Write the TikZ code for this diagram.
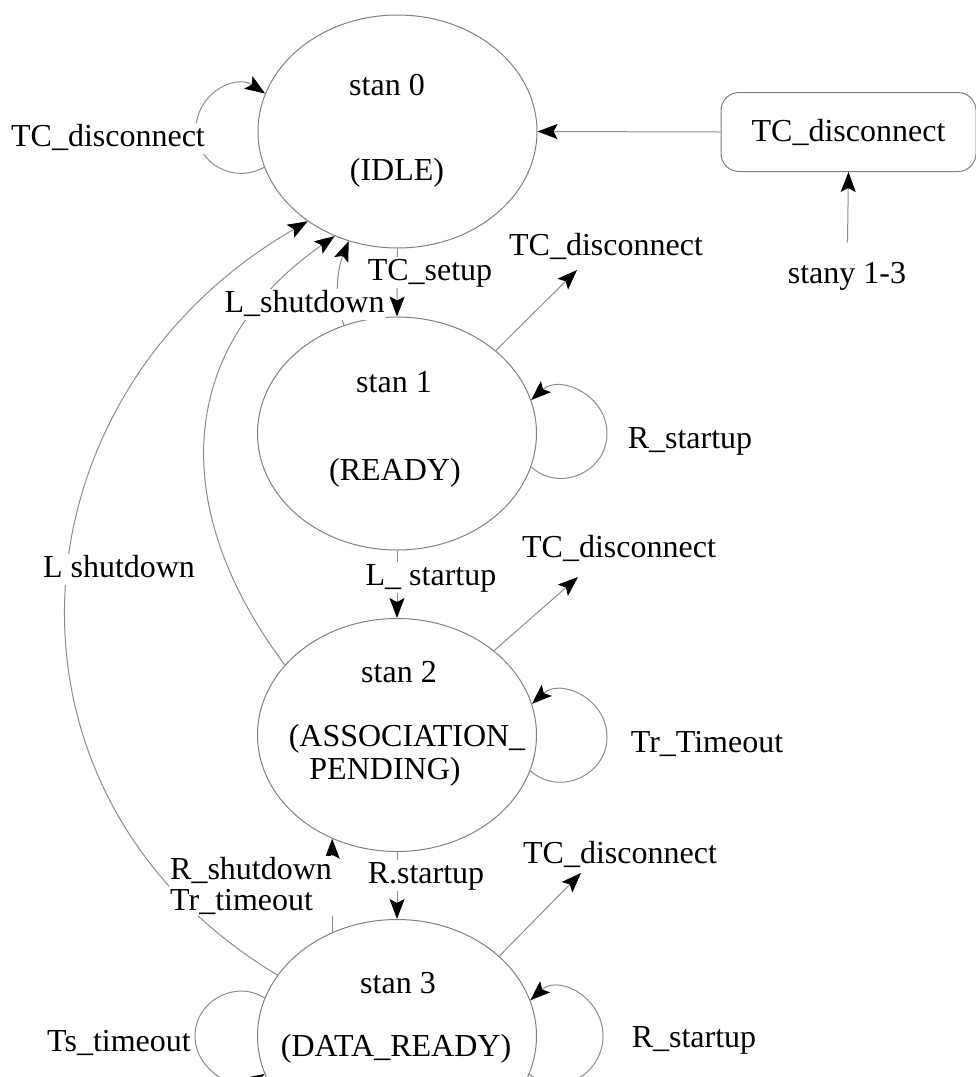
\documentclass[tikz,border=0pt]{standalone}
\usepackage{fontspec}
\setmainfont{Liberation Serif}
\usetikzlibrary{shapes.geometric,arrows.meta}

\begin{document}
\begin{tikzpicture}[x=1pt,y=-1pt,
  font=\fontsize{32}{31}\selectfont,
  stateell/.style={ellipse, draw=black!50, line width=1pt,
    minimum width=279pt, minimum height=233pt, inner sep=0pt},
  txt/.style={anchor=base, inner sep=0pt},
  lbl/.style={anchor=base, fill=white, inner sep=1.5pt,
    text height=22pt, text depth=6pt},
  conn/.style={draw=black!45, line width=1pt},
  arr/.style={conn, -{Stealth[length=20pt,width=15pt,inset=4pt,color=black]}},
  procbox/.style={draw=black!50, line width=1pt, rounded corners=18pt,
    minimum width=255pt, minimum height=79pt, inner sep=0pt}
]
\useasboundingbox (0,0) rectangle (976,1077);

% states
\node[stateell] (s0) at (397.5,131.5) {};
\node[stateell] (s1) at (397,433.5) {};
\node[stateell] (s2) at (397,735) {};
\node[stateell] (s3) at (397,1036) {};

\node[txt] (s0a) at (387,95) {stan 0};
\node[txt] (s0b) at (397,180) {(IDLE)};
\node[txt] (s1a) at (394,392) {stan 1};
\node[txt] (s1b) at (395,480) {(READY)};
\node[txt] (s2a) at (399,682) {stan 2};
\node[txt] (s2b) at (407,746) {(ASSOCIATION\_};
\node[txt] (s2c) at (385,779) {PENDING)};
\node[txt] (s3a) at (398,993) {stan 3};
\node[txt] (s3b) at (396,1056) {(DATA\_READY)};

% global disconnect box
\node[procbox] (tcbox) at (848.5,132) {TC\_disconnect};

% waypoints of the self-loops and free ends of the disconnect arrows
\coordinate (w0)  at (196,129.5);
\coordinate (w1)  at (607,433.5);
\coordinate (w2)  at (607,737);
\coordinate (w3r) at (603,1036);
\coordinate (w3l) at (195,1036);
\coordinate (t1)  at (577,270);
\coordinate (t2)  at (578,577);
\coordinate (t3)  at (581,873);

% transitions down the chain
\draw[arr] (s0.south) -- (s1.north);
\draw[arr] (s1.south) -- (s2.north);
\draw[arr] (s2.south) -- (s3.north);
\draw[arr] (s3.122) -- (s2.238);

% returns to the idle state
\draw[arr] (s1.116) .. controls +(-12,-30) and +(-10,25) .. (s0.246);
\draw[arr] (s2.148) .. controls +(-117,-156) and +(-160,112) .. (s0.239);
\draw[arr] (s3.153) .. controls +(-300,-180) and +(-303,175) .. (s0.225);

% disconnect requests
\draw[arr] (tcbox.west) -- (s0.0);
\node[lbl] (stany) at (847,283) {stany 1-3};
\draw[arr, shorten <=17pt] (stany) -- (tcbox.south);
\draw[arr] (s1.40) -- (t1);
\draw[arr] (s2.41) -- (t2);
\draw[arr] (s3.38) -- (t3);

% self-loops
\draw[arr] (s0.195) .. controls +(-30,17) and +(0,34.4) .. (w0)
                    .. controls +(0,-35.9) and +(-29.9,-19.9) .. (s0.164);
\draw[arr] (s1.346) .. controls +(28.6,26) and +(0,38.6) .. (w1)
                    .. controls +(0,-38.6) and +(28.6,-26) .. (s1.14);
\draw[arr] (s2.345) .. controls +(28.6,26) and +(0,38.6) .. (w2)
                    .. controls +(0,-38.6) and +(28.6,-26) .. (s2.13);
\draw[arr] (s3.344) .. controls +(28.6,26) and +(0,38.6) .. (w3r)
                    .. controls +(0,-38.6) and +(28.6,-26) .. (s3.15.5);
\draw[arr] (s3.164.6) .. controls +(-29.3,-19) and +(0,-34.9) .. (w3l)
                      .. controls +(0,34.4) and +(-29.3,18) .. (s3.196.2);

% transition labels
\node[lbl] (l0)     at (108,146)  {TC\_disconnect};
\node[lbl] (tcset)  at (430,280)  {TC\_setup};
\node[lbl] (lsh1)   at (304.5,312) {L\_shutdown};
\node[lbl] (tcd1)   at (606,255)  {TC\_disconnect};
\node[lbl] (rst1)   at (690,448)  {R\_startup};
\node[lbl] (lsh2)   at (119,577)  {L shutdown};
\node[lbl] (lst)    at (431,585)  {L\_ startup};
\node[lbl] (tcd2)   at (619,557)  {TC\_disconnect};
\node[lbl] (trto)   at (707,752)  {Tr\_Timeout};
\node[fill=white, inner sep=1pt, align=left, anchor=west] (rsh) at (169,886)
  {R\_shutdown\\Tr\_timeout};
\node[lbl] (rstart) at (426,883)  {R.startup};
\node[lbl] (tcd3)   at (620,863)  {TC\_disconnect};
\node[lbl] (rst3)   at (694,1047) {R\_startup};
\node[lbl, inner sep=0pt] (tsto) at (119,1051) {Ts\_timeout};
\end{tikzpicture}
\end{document}
